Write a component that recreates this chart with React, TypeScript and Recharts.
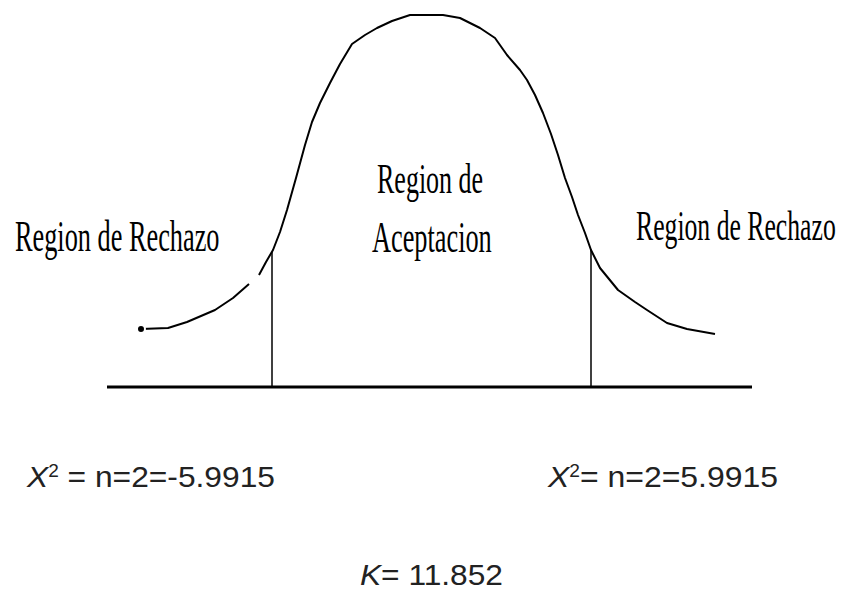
import React from 'react';
import { LineChart, Line, XAxis, YAxis, ReferenceLine } from 'recharts';

// drawing units: x across the picture, y = height above the bottom edge
const curveX = [
  141, 168, 187, 215, 233, 249, 254, 259, 266, 273, 280, 287, 296, 305, 312, 320, 330, 340, 352, 365,
  377, 392, 410, 443, 460, 480, 495, 507, 520, 527, 535, 543, 551, 558, 565, 572, 578, 585, 591, 600,
  618, 635, 647, 667, 687, 715,
];
const curveY: (number | null)[] = [
  264, 265, 271, 283, 295, 309, null, 318, 331, 343, 361, 383, 415, 448, 471, 490, 510, 529, 549, 558,
  565, 572, 578, 578, 575, 565, 555, 538, 523, 513, 498, 480, 459, 438, 415, 396, 378, 360, 343, 325,
  303, 291, 283, 270, 264, 259,
];

const axisStart = 107;
const axisEnd = 752;
const axisLevel = 206;

const criticalX = [272, 591];
const criticalTop = [341, 343];

const regionLabels = ['Region de Rechazo', 'Region de', 'Aceptacion', 'Region de Rechazo'];
const leftStat = '= n=2=-5.9915';
const rightStat = '= n=2=5.9915';
const kStat = '= 11.852';

const W = 843;
const H = 593;

const data = curveX.map((x, i) => ({ x, y: curveY[i] }));

const serif = { fontFamily: '"Liberation Serif", "DejaVu Serif", serif', fill: '#000' };
const sans = { fontFamily: '"Liberation Sans", Arial, sans-serif', fontSize: 30, fill: '#222' };

// the labels use a tall, narrow serif: normal glyphs stretched upward
const TallText = ({ x, y, size, children }: { x: number; y: number; size: number; children: React.ReactNode }) => (
  <text transform={`translate(${x},${y}) scale(1,1.65)`} fontSize={size} {...serif}>
    {children}
  </text>
);

export default function App() {
  return (
    <div style={{ position: 'fixed', left: 0, top: 0, width: W, height: H, background: '#fff' }}>
      <LineChart width={W} height={H} data={data} margin={{ top: 0, right: 0, bottom: 0, left: 0 }}>
        <XAxis dataKey="x" type="number" domain={[0, W]} hide />
        <YAxis type="number" domain={[0, H]} hide />
        <ReferenceLine
          segment={[{ x: axisStart, y: axisLevel }, { x: axisEnd, y: axisLevel }]}
          stroke="#000"
          strokeWidth={3}
        />
        {criticalX.map((cx, i) => (
          <ReferenceLine
            key={i}
            segment={[{ x: cx, y: axisLevel }, { x: cx, y: criticalTop[i] }]}
            stroke="#000"
            strokeWidth={1.5}
          />
        ))}
        <Line
          type="linear"
          dataKey="y"
          stroke="#000"
          strokeWidth={2}
          strokeLinejoin="round"
          dot={false}
          connectNulls={false}
          isAnimationActive={false}
        />
      </LineChart>
      <svg width={W} height={H} style={{ position: 'absolute', left: 0, top: 0, pointerEvents: 'none' }}>
        <TallText x={15} y={251} size={26.3}>{regionLabels[0]}</TallText>
        <TallText x={377} y={193} size={26}>{regionLabels[1]}</TallText>
        <TallText x={372} y={252} size={26.3}>{regionLabels[2]}</TallText>
        <TallText x={636} y={240} size={25.7}>{regionLabels[3]}</TallText>

        <text x={27} y={487} textLength={248} lengthAdjust="spacingAndGlyphs" {...sans}>
          <tspan fontStyle="italic">X</tspan>
          <tspan dy={-10} fontSize={18}>2</tspan>
          <tspan dy={10}>{' ' + leftStat}</tspan>
        </text>
        <text x={548} y={487} textLength={230} lengthAdjust="spacingAndGlyphs" {...sans}>
          <tspan fontStyle="italic">X</tspan>
          <tspan dy={-10} fontSize={18}>2</tspan>
          <tspan dy={10}>{rightStat}</tspan>
        </text>
        <text x={360} y={585} textLength={143} lengthAdjust="spacingAndGlyphs" {...sans} fontSize={29}>
          <tspan fontStyle="italic">K</tspan>
          <tspan>{kStat}</tspan>
        </text>
      </svg>
    </div>
  );
}
